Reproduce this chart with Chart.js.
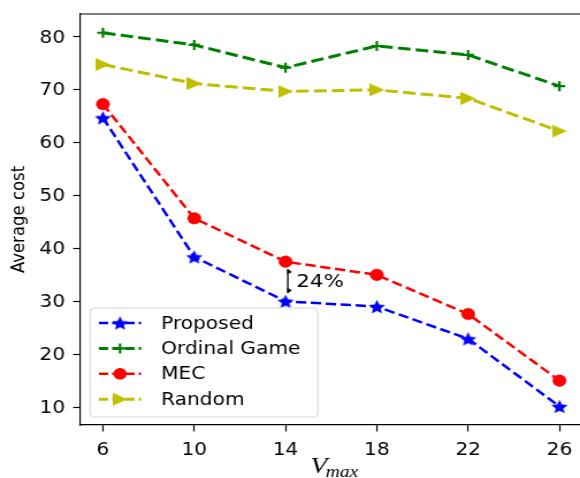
<!DOCTYPE html>
<html>
<head>
<meta charset="utf-8">
<script src="https://cdn.jsdelivr.net/npm/chart.js@4/dist/chart.umd.min.js"></script>
<style>
  html, body { margin: 0; padding: 0; background: #fff; }
  #grafico { display: block; }
</style>
</head>
<body>
<!-- the original figure is stretched sideways, so the canvas is drawn narrow and shown at 580px -->
<canvas id="grafico" width="504" height="478" style="width:580px;height:478px"></canvas>
<script>
/*
  Average cost vs V_max for four schemes.
  Values.
*/

// x categories and tick labels
const vmax = [6, 10, 14, 18, 22, 26];
const yTicks = [10, 20, 30, 40, 50, 60, 70, 80];

// series
const proposed    = [64.7, 38.4, 30.0, 29.0, 22.9, 10.1];
const ordinalGame = [80.8, 78.5, 74.2, 78.3, 76.6, 70.7];
const mec         = [67.3, 45.7, 37.5, 35.0, 27.6, 15.0];
const randomAlloc = [74.8, 71.2, 69.7, 70.0, 68.4, 62.2];

// the "24%" gap marker between MEC and Proposed
const gapAt = 14.1;
const gapFrom = 36.0;
const gapTo = 31.6;
const gapLabel = "24%";
const gapLabelY = 33.7;

const FONT = "DejaVu Sans";
Chart.defaults.color = "#000";

// ===== marker images (filled star and right triangle) =====
function starMarker(color, r) {
    const s = Math.ceil(r * 2) + 2;
    const c = document.createElement("canvas");
    c.width = s; c.height = s;
    const g = c.getContext("2d");
    g.fillStyle = color;
    g.beginPath();
    for (let i = 0; i < 10; i++) {
        const rad = i % 2 === 0 ? r : r * 0.47;
        const a = -Math.PI / 2 + i * Math.PI / 5;
        const px = s / 2 + rad * Math.cos(a);
        const py = s / 2 + 0.8 + rad * Math.sin(a);
        if (i === 0) g.moveTo(px, py); else g.lineTo(px, py);
    }
    g.closePath();
    g.fill();
    return c;
}

function triangleMarker(color, size) {
    const c = document.createElement("canvas");
    c.width = size; c.height = size;
    const g = c.getContext("2d");
    g.fillStyle = color;
    g.beginPath();
    g.moveTo(0, 0);
    g.lineTo(size, size / 2);
    g.lineTo(0, size);
    g.closePath();
    g.fill();
    return c;
}

const starImg = starMarker("#0000ff", 7.5);
const triImg = triangleMarker("#bfbf00", 13);

const toPoints = arr => vmax.map((x, i) => ({ x: x, y: arr[i] }));

const datasets = [
    {
        label: "Proposed",
        data: toPoints(proposed),
        borderColor: "#0000ff",
        borderWidth: 2.5,
        borderDash: [9, 4],
        pointStyle: starImg,
        pointRadius: 7
    },
    {
        label: "Ordinal Game",
        data: toPoints(ordinalGame),
        borderColor: "#008000",
        borderWidth: 3,
        borderDash: [11, 4.5],
        pointStyle: "cross",
        pointRadius: 5,
        pointBorderWidth: 2.2,
        pointBorderColor: "#008000"
    },
    {
        label: "MEC",
        data: toPoints(mec),
        borderColor: "#ff0000",
        borderWidth: 2.5,
        borderDash: [9, 4],
        pointStyle: "circle",
        pointRadius: 5.8,
        pointBackgroundColor: "#ff0000",
        pointBorderColor: "#ff0000",
        pointBorderWidth: 0.5
    },
    {
        label: "Random",
        data: toPoints(randomAlloc),
        borderColor: "#bfbf00",
        borderWidth: 3,
        borderDash: [11, 4.5],
        pointStyle: triImg,
        pointRadius: 7
    }
];
datasets.forEach(d => { d.fill = false; d.tension = 0; d.showLine = true; });

// ===== plugin: top spine, gap arrow, x title, legend =====
const extras = {
    id: "extras",
    afterDatasetsDraw(chart) {
        const ctx = chart.ctx;
        const a = chart.chartArea;
        const xs = chart.scales.x, ys = chart.scales.y;
        ctx.save();

        // top spine
        ctx.strokeStyle = "#000";
        ctx.lineWidth = 1.2;
        ctx.beginPath();
        ctx.moveTo(a.left, a.top);
        ctx.lineTo(a.right, a.top);
        ctx.stroke();

        // gap arrow
        const ax = xs.getPixelForValue(gapAt);
        const y1 = ys.getPixelForValue(gapFrom);
        const y2 = ys.getPixelForValue(gapTo);
        ctx.lineWidth = 1.3;
        ctx.beginPath();
        ctx.moveTo(ax, y1);
        ctx.lineTo(ax, y2);
        ctx.stroke();
        ctx.fillStyle = "#000";
        ctx.beginPath();
        ctx.moveTo(ax - 0.5, y1 - 1);
        ctx.lineTo(ax + 3.5, y1 + 2.5);
        ctx.lineTo(ax - 0.5, y1 + 5);
        ctx.closePath();
        ctx.fill();
        ctx.beginPath();
        ctx.moveTo(ax - 0.5, y2 + 1);
        ctx.lineTo(ax + 3.5, y2 - 2.5);
        ctx.lineTo(ax - 0.5, y2 - 5);
        ctx.closePath();
        ctx.fill();
        ctx.font = "18.5px '" + FONT + "'";
        ctx.textBaseline = "middle";
        ctx.textAlign = "left";
        ctx.fillText(gapLabel, ax + 7.5, ys.getPixelForValue(gapLabelY));

        // x title: V with subscript max
        const cx = (xs.getPixelForValue(vmax[0]) + xs.getPixelForValue(vmax[vmax.length - 1])) / 2 + 3.5;
        ctx.textBaseline = "alphabetic";
        ctx.font = "italic 24px 'Liberation Serif'";
        const wV = ctx.measureText("V").width;
        ctx.font = "italic 17px 'Liberation Serif'";
        const wSub = ctx.measureText("max").width;
        const start = cx - (wV + wSub) / 2;
        ctx.font = "italic 24px 'Liberation Serif'";
        ctx.fillText("V", start, 473);
        ctx.font = "italic 17px 'Liberation Serif'";
        ctx.fillText("max", start + wV - 1.5, 477);

        // legend
        const bx = a.left + 8.7, by = a.bottom - 117, bw = 198, bh = 109;
        ctx.fillStyle = "rgba(255,255,255,0.8)";
        ctx.strokeStyle = "#d6d6d6";
        ctx.lineWidth = 1;
        ctx.beginPath();
        ctx.roundRect(bx, by, bw, bh, 4);
        ctx.fill();
        ctx.stroke();

        ctx.font = "17.5px '" + FONT + "'";
        ctx.textBaseline = "middle";
        chart.data.datasets.forEach((ds, i) => {
            const ry = by + 15 + i * 25.4;
            ctx.strokeStyle = ds.borderColor;
            ctx.lineWidth = ds.borderWidth;
            ctx.setLineDash([8, 3.5]);
            ctx.beginPath();
            ctx.moveTo(bx + 7.7, ry);
            ctx.lineTo(bx + 44.3, ry);
            ctx.stroke();
            ctx.setLineDash([]);
            const mx = bx + 26;
            if (ds.pointStyle instanceof HTMLCanvasElement) {
                ctx.drawImage(ds.pointStyle, mx - ds.pointStyle.width / 2, ry - ds.pointStyle.height / 2);
            } else if (ds.pointStyle === "cross") {
                ctx.lineWidth = ds.pointBorderWidth;
                ctx.beginPath();
                ctx.moveTo(mx - 5, ry); ctx.lineTo(mx + 5, ry);
                ctx.moveTo(mx, ry - 5); ctx.lineTo(mx, ry + 5);
                ctx.stroke();
            } else {
                ctx.fillStyle = ds.pointBackgroundColor;
                ctx.beginPath();
                ctx.arc(mx, ry, ds.pointRadius, 0, Math.PI * 2);
                ctx.fill();
            }
            ctx.fillStyle = "#000";
            ctx.fillText(ds.label, bx + 61.7, ry + 1);
        });

        ctx.restore();
    }
};

const chart = new Chart(document.getElementById("grafico"), {
    type: "line",
    data: { datasets: datasets },
    options: {
        responsive: false,
        devicePixelRatio: 1,
        animation: false,
        layout: { autoPadding: false, padding: { top: 14, right: 0, left: 0, bottom: 0 } },
        plugins: {
            legend: { display: false },
            tooltip: { enabled: false }
        },
        scales: {
            x: {
                type: "linear",
                min: 5,
                max: 26.9,
                afterBuildTicks: s => { s.ticks = vmax.map(v => ({ value: v })); },
                afterFit: s => { s.height = 53; s.paddingLeft = 0; s.paddingRight = 0; },
                grid: { drawOnChartArea: false, drawTicks: true, tickLength: 6.5, tickColor: "#000", tickWidth: 1.2 },
                border: { display: true, color: "#000", width: 1.2 },
                ticks: { font: { family: FONT, size: 17.5 }, color: "#000", padding: 8, maxRotation: 0 }
            },
            y: {
                min: 6.6,
                max: 84.35,
                afterBuildTicks: s => { s.ticks = yTicks.map(v => ({ value: v })); },
                afterFit: s => { s.width = 69.6; s.paddingTop = 0; s.paddingBottom = 0; },
                grid: { drawOnChartArea: false, drawTicks: true, tickLength: 6, tickColor: "#000", tickWidth: 1.2 },
                border: { display: true, color: "#000", width: 1.2 },
                ticks: { font: { family: FONT, size: 17.5 }, color: "#000", padding: 7, labelOffset: 1 },
                title: {
                    display: true,
                    text: "Average cost",
                    font: { family: FONT, size: 16.5 },
                    color: "#000",
                    padding: { top: 7, bottom: 0 }
                }
            }
        }
    },
    plugins: [extras]
});
</script>
</body>
</html>
